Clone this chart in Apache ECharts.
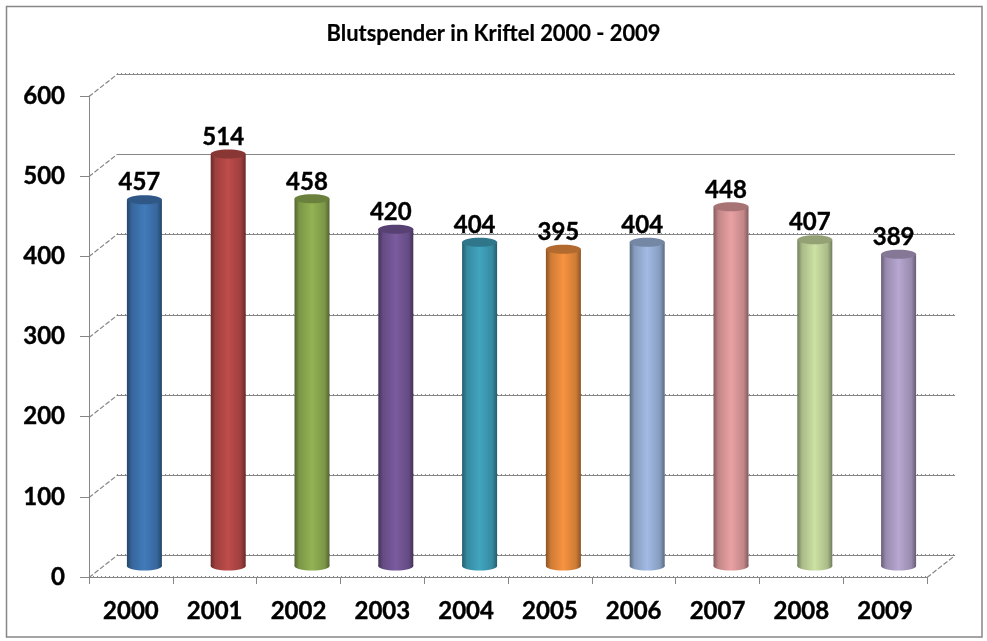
<!DOCTYPE html>
<html>
<head>
<meta charset="utf-8">
<style>html,body{margin:0;padding:0;background:#fff}#c{width:987px;height:641px}</style>
<script src="https://cdn.jsdelivr.net/npm/echarts@6/dist/echarts.min.js"></script>
</head>
<body>
<div id="c"></div>
<script>
const titleText = 'Blutspender in Kriftel 2000 - 2009';
const years = ['2000','2001','2002','2003','2004','2005','2006','2007','2008','2009'];
const donors = [457,514,458,420,404,395,404,448,407,389];
const yTicks = [0,100,200,300,400,500,600];
const barColors = ['#4077b5','#b84a48','#8fae52','#76589a','#3fa0ba','#f08f3e','#9db6de','#e29c9e','#c6da9e','#b2a2cb'];
const GRAY = '#868686';
const DEPTH_X = 28, DEPTH_Y = -22;
const MID_X = 13.5, MID_Y = -11;
const CYL_HALF = 17.5, CYL_RY = 4.5;

function shade(hex,k){
  const n = parseInt(hex.slice(1),16);
  const f = function(v){return Math.min(255,Math.round(v*k));};
  return 'rgb('+f(n>>16&255)+','+f(n>>8&255)+','+f(n&255)+')';
}
function bodyFill(c){
  return {type:'linear',x:0,y:0,x2:1,y2:0,colorStops:[
    {offset:0,color:shade(c,0.58)},{offset:0.14,color:shade(c,0.86)},
    {offset:0.5,color:shade(c,1.03)},{offset:0.86,color:shade(c,0.86)},{offset:1,color:shade(c,0.58)}]};
}
function line(x1,y1,x2,y2,style){
  return {type:'line',shape:{x1,y1,x2,y2},style:Object.assign({stroke:GRAY,lineWidth:1,fill:null},style||{})};
}
function renderWall(params,api){
  const v = api.value(0);
  const rect = params.coordSys;
  const p = api.coord([0,v]);
  const y = Math.round(p[1])+0.5;
  const x0 = rect.x, x1 = rect.x+rect.width;
  const by = y+DEPTH_Y;
  const kids = [
    line(x0+DEPTH_X,by,x1+DEPTH_X,by),
    line(x0,y,x0+DEPTH_X,by,{lineDash:[5,2],lineWidth:1.2})
  ];
  if (v !== 500) kids.push(line(x0+DEPTH_X,by-1,x1+DEPTH_X,by-1,{lineDash:[1,3]}));
  if (v === 0) {
    kids.push(line(x1,y,x1+DEPTH_X,by,{lineDash:[5,2],lineWidth:1.2}));
    kids.push(line(x0,y-1,x1,y-1,{lineDash:[1,3]}));
  }
  return {type:'group',children:kids};
}
function renderCylinder(params,api){
  const c = barColors[params.dataIndex];
  const base = api.coord([params.dataIndex,0]);
  const top = api.coord([params.dataIndex,api.value(1)]);
  const cx = base[0]+MID_X, by = base[1]+MID_Y, ty = top[1]+MID_Y;
  return {type:'group',children:[
    {type:'ellipse',shape:{cx:cx,cy:by,rx:CYL_HALF,ry:CYL_RY},style:{fill:bodyFill(c)}},
    {type:'rect',shape:{x:cx-CYL_HALF,y:ty,width:CYL_HALF*2,height:by-ty},style:{fill:bodyFill(c)}},
    {type:'ellipse',shape:{cx:cx,cy:ty,rx:CYL_HALF,ry:CYL_RY},style:{fill:shade(c,0.74)}},
    {type:'text',style:{x:cx-5,y:ty-17,text:String(api.value(1)),align:'center',verticalAlign:'middle',
      font:'bold 24px Lato',fill:'#000',stroke:'#000',lineWidth:0.4}}
  ]};
}
const chart = echarts.init(document.getElementById('c'),null,{renderer:'canvas'});
chart.setOption({
  animation:false,
  backgroundColor:'#fff',
  title:{text:titleText,left:'center',top:18,itemGap:0,
    textStyle:{fontFamily:'Lato',fontWeight:'bold',fontSize:21.9,color:'#000',textBorderColor:'#000',textBorderWidth:0.2}},
  graphic:[{type:'rect',silent:true,z:-10,shape:{x:6.5,y:6.5,width:975.5,height:630.5},
    style:{fill:'#fff',stroke:GRAY,lineWidth:1.5}}],
  grid:{left:89,top:96,width:838,height:481},
  xAxis:{type:'category',data:years,
    axisLine:{show:true,lineStyle:{color:GRAY,width:1}},
    axisTick:{show:true,alignWithLabel:false,length:7,lineStyle:{color:GRAY}},
    axisLabel:{margin:22,fontFamily:'Lato',fontWeight:'bold',fontSize:24,color:'#000',textBorderColor:'#000',textBorderWidth:0.4},
    splitLine:{show:false}},
  yAxis:{type:'value',min:0,max:600,interval:100,
    axisLine:{show:true,lineStyle:{color:GRAY,width:1}},
    axisTick:{show:true,length:9,lineStyle:{color:GRAY}},
    axisLabel:{margin:24,fontFamily:'Lato',fontWeight:'bold',fontSize:24,color:'#000',padding:[2,0,0,0],textBorderColor:'#000',textBorderWidth:0.4,
      formatter:function(v){return yTicks.indexOf(v)>=0?String(v):'';}},
    splitLine:{show:false}},
  series:[
    {type:'custom',name:'wall',z:1,silent:true,renderItem:renderWall,data:yTicks.map(v=>[v]),
      encode:{y:0},clip:false},
    {type:'custom',name:'Blutspender',z:3,renderItem:renderCylinder,
      data:years.map((y,i)=>[i,donors[i]]),encode:{x:0,y:1},clip:false}
  ]
});
</script>
</body>
</html>
